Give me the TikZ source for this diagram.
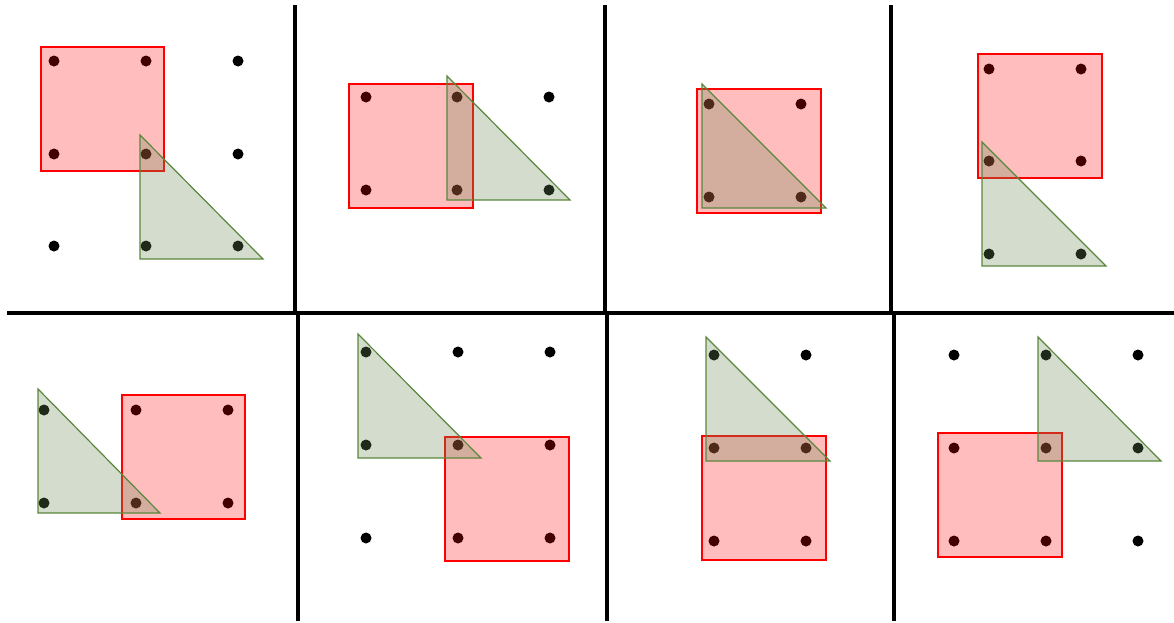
\documentclass[tikz,border=0pt]{standalone}
\begin{document}
\begin{tikzpicture}[x=1pt,y=-1pt,
  gridline/.style={line width=3.6pt,black},
  dotmark/.style={fill=black},
  sq/.style={draw=red,line width=1.2pt,fill=red,fill opacity=0.26},
  tri/.style={draw={rgb,255:red,90;green,135;blue,60},line width=1.2pt,fill={rgb,255:red,109;green,140;blue,90},fill opacity=0.3,line join=miter}]
\useasboundingbox (0,0) rectangle (1174,622);
% grid
\draw[gridline] (7,313) -- (1174,313);
\draw[gridline] (295,5) -- (295,313);
\draw[gridline] (298,313) -- (298,621);
\draw[gridline] (605,5) -- (605,313);
\draw[gridline] (607,313) -- (607,621);
\draw[gridline] (891,5) -- (891,313);
\draw[gridline] (894,313) -- (894,621);
% dots
\foreach \p in {(54,61),(146,61),(238,61),(54,154),(146,154),(238,154),(54,246),(146,246),(238,246),
  (366,97),(457,97),(549,97),(366,190),(457,190),(549,190),
  (709,104),(801,104),(709,197),(801,197),
  (989,69),(1081,69),(989,161),(1081,161),(989,254),(1081,254),
  (44,410),(136,410),(228,410),(44,503),(136,503),(228,503),
  (366,352),(458,352),(550,352),(366,445),(458,445),(550,445),(366,538),(458,538),(550,538),
  (714,355),(806,355),(714,448),(806,448),(714,541),(806,541),
  (954,355),(1046,355),(1138,355),(954,448),(1046,448),(1138,448),(954,541),(1046,541),(1138,541)}
  \fill[dotmark] \p circle (5.5);
% panel 1
\draw[sq] (41,47) rectangle (164,171);
\draw[tri] (140,135) -- (140,259) -- (263,259) -- cycle;
% panel 2
\draw[sq] (349,84) rectangle (473,208);
\draw[tri] (447,76) -- (447,200) -- (570,200) -- cycle;
% panel 3
\draw[sq] (697,89) rectangle (821,213);
\draw[tri] (702,84) -- (702,208) -- (826,208) -- cycle;
% panel 4
\draw[sq] (978,54) rectangle (1102,178);
\draw[tri] (982,142) -- (982,266) -- (1106,266) -- cycle;
% panel 5
\draw[sq] (122,395) rectangle (245,519);
\draw[tri] (38,389) -- (38,513) -- (160,513) -- cycle;
% panel 6
\draw[sq] (445,437) rectangle (569,561);
\draw[tri] (358,334) -- (358,458) -- (481,458) -- cycle;
% panel 7
\draw[sq] (702,436) rectangle (826,560);
\draw[tri] (706,337) -- (706,461) -- (830,461) -- cycle;
% panel 8
\draw[sq] (938,433) rectangle (1062,557);
\draw[tri] (1038,337) -- (1038,461) -- (1161,461) -- cycle;
\end{tikzpicture}
\end{document}
